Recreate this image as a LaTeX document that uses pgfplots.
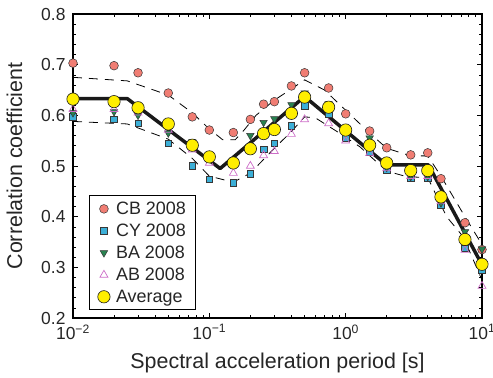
\documentclass[border=0pt]{standalone}
\usepackage{fontspec}
\setmainfont{Liberation Sans}
\usepackage{pgfplots}
\usepackage{pgfplotstable}
\pgfplotsset{compat=1.18}

\definecolor{cbc}{RGB}{240,125,115}
\definecolor{cyc}{RGB}{60,175,215}
\definecolor{bac}{RGB}{40,130,80}
\definecolor{abc}{RGB}{205,110,200}
\definecolor{avc}{RGB}{255,238,0}
\definecolor{edge}{RGB}{55,55,55}

\pgfplotstableread{
T     CB     CY     BA     AB     AVG
0.01  0.703  0.597  0.605  0.612  0.632
0.02  0.698  0.592  0.607  0.612  0.627
0.03  0.684  0.584  0.600  0.605  0.615
0.05  0.644  0.545  0.565  0.571  0.583
0.075 0.597  0.501  0.548  0.532  0.541
0.1   0.571  0.474  0.518  0.506  0.518
0.15  0.566  0.467  0.512  0.486  0.506
0.2   0.592  0.485  0.560  0.500  0.534
0.25  0.622  0.533  0.586  0.521  0.564
0.3   0.627  0.545  0.593  0.529  0.572
0.4   0.658  0.580  0.621  0.563  0.604
0.5   0.684  0.619  0.644  0.592  0.636
0.75  0.654  0.602  0.623  0.584  0.616
1     0.603  0.556  0.575  0.550  0.571
1.5   0.569  0.528  0.555  0.525  0.541
2     0.536  0.492  0.497  0.495  0.506
3     0.522  0.476  0.479  0.480  0.491
4     0.526  0.476  0.479  0.480  0.491
5     0.475  0.423  0.427  0.430  0.439
7.5   0.388  0.338  0.370  0.334  0.355
10    0.335  0.295  0.336  0.263  0.306
}\datatab

\pgfplotstableread{
T     V
0.01  0.633
0.025 0.633
0.12  0.495
0.5   0.637
2     0.502
4.05  0.502
10    0.305
}\fittab

\pgfplotstableread{
T     V
0.01  0.675
0.025 0.668
0.05  0.640
0.075 0.605
0.1   0.573
0.125 0.552
0.155 0.552
0.18  0.571
0.22  0.600
0.3   0.630
0.4   0.652
0.5   0.670
0.7   0.650
1     0.610
1.5   0.565
2     0.535
3     0.520
4     0.520
5     0.480
7.5   0.400
10    0.345
}\uptab

\pgfplotstableread{
T     V
0.01  0.588
0.025 0.583
0.05  0.553
0.075 0.515
0.1   0.480
0.15  0.468
0.2   0.486
0.3   0.535
0.4   0.568
0.5   0.597
0.6   0.595
0.9   0.565
1.27  0.538
2     0.490
2.8   0.479
4     0.477
5.5   0.400
7.3   0.360
10    0.275
}\lowtab

\begin{document}
\begin{tikzpicture}
\begin{axis}[
  name=ax,
  xmode=log,
  width=409bp, height=304bp, scale only axis,
  xmin=0.01, xmax=10, ymin=0.2, ymax=0.8,
  xtick={0.01,0.1,1,10},
  xticklabels={10\textsuperscript{−2},10\textsuperscript{−1},10\textsuperscript{0},10\textsuperscript{1}},
  xticklabel style={yshift=-3bp},
  ytick={0.2,0.3,0.4,0.5,0.6,0.7,0.8},
  yticklabel style={xshift=-4bp, /pgf/number format/.cd, fixed, fixed zerofill, precision=1, assume math mode=true},
  minor y tick num=4,
  tick align=inside,
  major tick length=5bp, minor tick length=3bp,
  every tick/.style={black, line width=0.6bp},
  axis line style={black, line width=1.2bp},
  ticklabel style={font=\fontsize{17.5}{20}\selectfont, text=black!85},
  label style={font=\fontsize{21.5}{25}\selectfont, text=black!85},
  xlabel={Spectral acceleration period [s]},
  ylabel={Correlation coefficient},
  xlabel style={yshift=-7bp},
  ylabel style={yshift=12bp},
  legend style={at={(axis description cs:0.04,0.026)}, anchor=south west,
    draw=black, line width=0.8bp, fill=white,
    font=\fontsize{18}{21}\selectfont, text=black!85,
    row sep=4bp, inner xsep=8bp, inner ysep=4bp,
    /tikz/every odd column/.append style={column sep=4bp}},
  legend cell align=left,
]
\addplot[forget plot, black, line width=0.8bp, dash pattern=on 9bp off 7bp] table[x=T,y=V] {\uptab};
\addplot[forget plot, black, line width=0.8bp, dash pattern=on 9bp off 7bp] table[x=T,y=V] {\lowtab};
\addplot[only marks, mark=*, mark size=4.4, mark options={fill=cbc, draw=edge, line width=0.5bp}] table[x=T,y=CB] {\datatab};
\addlegendentry{CB 2008}
\addplot[only marks, mark=square*, mark size=3.3, mark options={fill=cyc, draw=edge, line width=0.5bp}] table[x=T,y=CY] {\datatab};
\addlegendentry{CY 2008}
\addplot[only marks, mark=triangle*, mark size=4.3, mark options={rotate=180, fill=bac, draw=edge, line width=0.5bp}] table[x=T,y=BA] {\datatab};
\addlegendentry{BA 2008}
\addplot[only marks, mark=triangle, mark size=4.6, mark options={draw=abc, line width=0.7bp}] table[x=T,y=AB] {\datatab};
\addlegendentry{AB 2008}
\addplot[only marks, mark=*, mark size=6.2, mark options={fill=avc, draw=black!90, line width=0.6bp}] table[x=T,y=AVG] {\datatab};
\addlegendentry{Average}
\addplot[forget plot, black!90, line width=3.5bp, line join=round] table[x=T,y=V] {\fittab};
\end{axis}
\pgfresetboundingbox
\path[use as bounding box] ([xshift=-73bp,yshift=-60bp]ax.south west) rectangle ([xshift=11bp,yshift=14bp]ax.north east);
\end{tikzpicture}
\end{document}
